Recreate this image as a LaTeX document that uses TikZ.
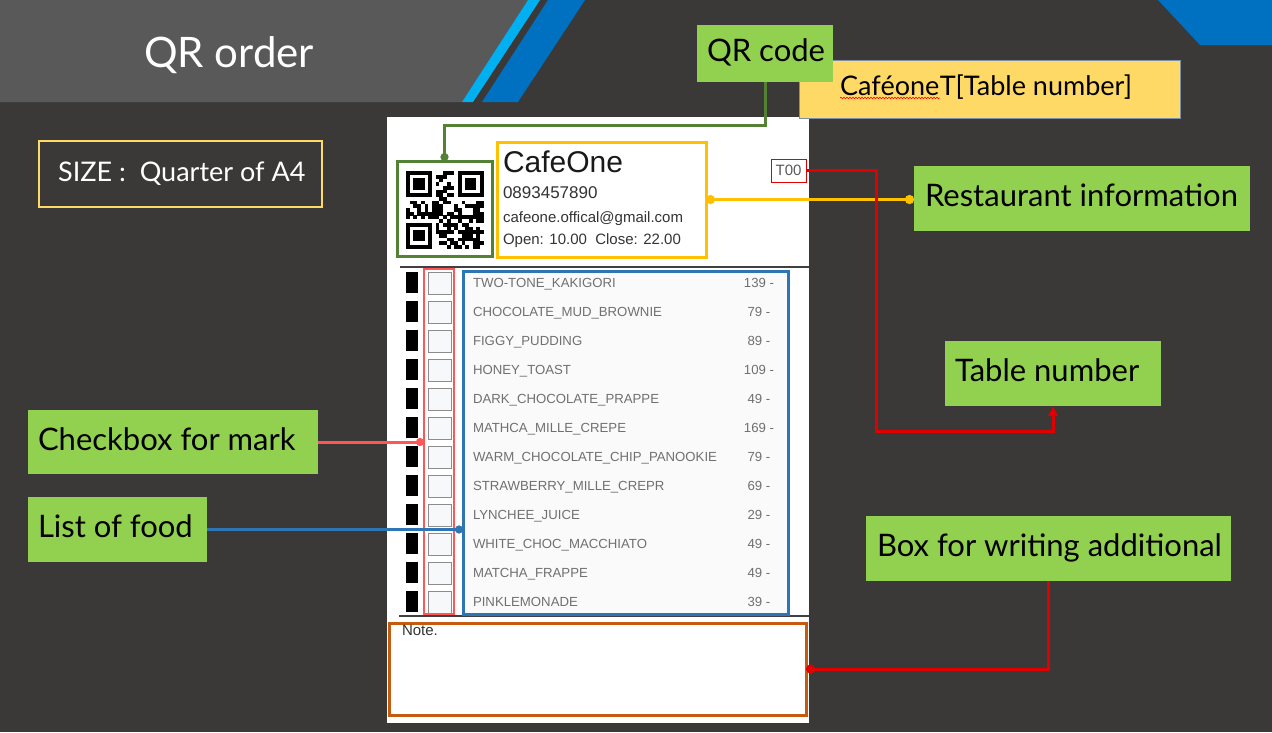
\documentclass[tikz,border=0pt]{standalone}
\usepackage{fontspec}
\setmainfont{Lato}
\newfontfamily\arialf{Liberation Sans}
\usetikzlibrary{arrows.meta,decorations.pathmorphing}
\definecolor{bgc}{HTML}{3B3838}
\definecolor{headgray}{HTML}{595959}
\definecolor{lblue}{HTML}{00B0F0}
\definecolor{dblue}{HTML}{0070C0}
\definecolor{lgreen}{HTML}{92D050}
\definecolor{lyellow}{HTML}{FFD966}
\definecolor{yborder}{HTML}{7F8FA6}
\definecolor{qrgreen}{HTML}{548235}
\definecolor{infoyellow}{HTML}{FFC000}
\definecolor{tred}{HTML}{E00000}
\definecolor{pinkred}{HTML}{FF5757}
\definecolor{listblue}{HTML}{2E75B6}
\definecolor{listfill}{HTML}{FAFAFA}
\definecolor{noteorange}{HTML}{C55A11}
\definecolor{cbgray}{HTML}{8C8C8C}
\definecolor{cbfill}{HTML}{F7F8FA}
\definecolor{foodgray}{HTML}{707070}
\definecolor{papertext}{HTML}{333333}
\begin{document}
\begin{tikzpicture}[x=1pt,y=-1pt,
  lbox/.style={rectangle,fill=lgreen,anchor=north west,inner sep=0pt,outer sep=0pt},
  ltext/.style={anchor=base west,inner sep=0pt,outer sep=0pt,text=black,font=\fontsize{31}{36}\selectfont},
  frame/.style={rectangle,anchor=north west,inner sep=0pt,outer sep=0pt},
  ptext/.style={anchor=base west,inner sep=0pt,outer sep=0pt,text=papertext},
  food/.style={anchor=base west,inner sep=0pt,outer sep=0pt,text=foodgray,font=\arialf\fontsize{13.2}{15}\selectfont},
  conn/.style={line width=3pt},
]
\useasboundingbox (0,0) rectangle (1272,732);
\fill[bgc] (0,0) rectangle (1272,732);
% header
\fill[headgray] (0,0) -- (528,0) -- (462,102) -- (0,102) -- cycle;
\fill[lblue] (528,0) -- (540,0) -- (473,102) -- (462,102) -- cycle;
\fill[dblue] (548,0) -- (585,0) -- (518,102) -- (482,102) -- cycle;
\fill[dblue] (1158,0) -- (1272,0) -- (1272,45) -- (1200,45) -- cycle;
\node[anchor=base,inner sep=0pt,text=white,font=\fontsize{42}{50}\selectfont] (title) at (229,67) {QR order};
% size box
\node[frame,draw=lyellow,line width=1.2pt,minimum width=283pt,minimum height=66pt] (sizebox) at (39,141) {};
\node[anchor=base west,inner sep=0pt,text=white,font=\fontsize{27}{32}\selectfont] (sizetext) at (58,181) {SIZE :\ \ Quarter of A4};
% paper
\node[frame,fill=white,minimum width=422pt,minimum height=606pt] (paper) at (387,117) {};
% yellow label
\node[frame,fill=lyellow,draw=yborder,minimum width=381pt,minimum height=58pt] (ylab) at (799,60) {};
% QR label
\node[lbox,minimum width=136pt,minimum height=57pt] (qrlab) at (697,25) {};
\node[ltext] (qrlabt) at ([xshift=10pt,yshift=-8pt]qrlab.west) {QR code};
\node[anchor=base west,inner sep=0pt,text=black,font=\fontsize{27}{32}\selectfont] (cafe) at (840,95) {Caféone};
\node[anchor=base west,inner sep=0pt,text=black,font=\fontsize{27}{32}\selectfont] (tabn) at (cafe.base east) {T[Table number]};
\draw[red,line width=0.6pt,decorate,decoration={snake,amplitude=0.8pt,segment length=3pt}] ([yshift=-3pt]cafe.base west) -- ([yshift=-3pt]cafe.base east);
% QR box and code
\node[frame,draw=qrgreen,line width=3pt,minimum width=95pt,minimum height=95pt] (qrbox) at (397,161) {};
\begin{scope}[shift={(406,171)},x=3.7pt,y=-3.7pt]
  \foreach \fx/\fy in {0/0,14/0,0/14}{
    \fill[black] (\fx,\fy) rectangle ++(7,7);
    \fill[white] (\fx+1,\fy+1) rectangle ++(5,5);
    \fill[black] (\fx+2,\fy+2) rectangle ++(3,3);
  }
  \pgfmathsetseed{7}
  \foreach \i in {0,...,20}{
    \foreach \j in {0,...,20}{
      \pgfmathtruncatemacro{\qsk}{or(and(\i<8,\j<8),or(and(\i>12,\j<8),and(\i<8,\j>12)))}
      \pgfmathtruncatemacro{\qon}{rnd<0.6}
      \ifnum\qsk=0 \ifnum\qon=1 \fill[black] (\i,\j) rectangle ++(1.05,1.05); \fi\fi
    }
  }
\end{scope}
% info box
\node[frame,draw=infoyellow,line width=3pt,minimum width=209pt,minimum height=115pt] (infobox) at (497,142) {};
\node[ptext,text=black!90,font=\arialf\fontsize{30}{34}\selectfont] (cname) at (503,172) {CafeOne};
\node[ptext,font=\arialf\fontsize{17}{20}\selectfont] (cphone) at (503,198) {0893457890};
\node[ptext,font=\arialf\fontsize{15}{18}\selectfont] (cmail) at (503,222) {cafeone.offical@gmail.com};
\node[ptext,font=\arialf\fontsize{15}{18}\selectfont] (copen) at (503,244) {Open: 10.00\ \ Close: 22.00};
% T00
\node[frame,draw=tred,line width=1pt,minimum width=35pt,minimum height=23pt] (t00) at (771,159) {};
\node[inner sep=0pt,text=black!65,font=\arialf\fontsize{15}{18}\selectfont] (t00t) at (t00.center) {T00};
% separators
\draw[black!75,line width=1.5pt] (400,267) -- (809,267);
\draw[black!75,line width=1.5pt] (399,616) -- (809,616);
% list area
\node[frame,draw=listblue,fill=listfill,line width=3pt,minimum width=325pt,minimum height=343pt] (listbox) at (463,271) {};
\foreach \i in {0,...,11}{
  \fill[black] (406,272+29*\i) rectangle ++(12,21);
  \node[frame,draw=cbgray,fill=cbfill,line width=0.8pt,minimum width=23pt,minimum height=22pt] (cb\i) at (428,272+29*\i) {};
}
\node[frame,draw=pinkred,line width=2.8pt,minimum width=30pt,minimum height=345pt] (cbcol) at (424,269) {};
\foreach \n/\p [count=\k from 0] in {TWO-TONE\_KAKIGORI/139,CHOCOLATE\_MUD\_BROWNIE/79,FIGGY\_PUDDING/89,HONEY\_TOAST/109,DARK\_CHOCOLATE\_PRAPPE/49,MATHCA\_MILLE\_CREPE/169,WARM\_CHOCOLATE\_CHIP\_PANOOKIE/79,STRAWBERRY\_MILLE\_CREPR/69,LYNCHEE\_JUICE/29,WHITE\_CHOC\_MACCHIATO/49,MATCHA\_FRAPPE/49,PINKLEMONADE/39}{
  \node[food] (food\k) at (473,287+29*\k) {\n};
  \node[food,anchor=base] (price\k) at (759,287+29*\k) {\p\ -};
}
% note box
\node[frame,draw=noteorange,line width=3pt,minimum width=417pt,minimum height=92pt] (notebox) at (389,623) {};
\node[ptext,text=black!80,font=\arialf\fontsize{15}{18}\selectfont] (notet) at (402,635) {Note.};
% green labels
\node[lbox,minimum width=336pt,minimum height=65pt] (reslab) at (914,166) {};
\node[ltext] (reslabt) at ([xshift=11pt,yshift=-8pt]reslab.west) {Restaurant information};
\node[lbox,minimum width=216pt,minimum height=65pt] (tablab) at (945,341) {};
\node[ltext] (tablabt) at ([xshift=10pt,yshift=-8pt]tablab.west) {Table number};
\node[lbox,minimum width=290pt,minimum height=64pt] (cblab) at (28,410) {};
\node[ltext] (cblabt) at ([xshift=10pt,yshift=-8pt]cblab.west) {Checkbox for mark};
\node[lbox,minimum width=179pt,minimum height=65pt] (lflab) at (28,497) {};
\node[ltext] (lflabt) at ([xshift=10pt,yshift=-8pt]lflab.west) {List of food};
\node[lbox,minimum width=365pt,minimum height=65pt] (boxlab) at (866,516) {};
\node[ltext] (boxlabt) at ([xshift=11pt,yshift=-8pt]boxlab.west) {Box for writing additional};
% connectors
\draw[conn,qrgreen,-{Circle[length=8pt,width=8pt]}] (qrlab.south) -- ++(0,43) -| (qrbox.north);
\draw[conn,infoyellow,{Circle[length=9pt,width=9pt]}-{Circle[length=9pt,width=9pt]}] (infobox.east) -- (infobox.east -| reslab.west);
\coordinate (tbend) at (876,431);
\draw[conn,tred,-{Triangle[length=10pt,width=9pt]}] (t00.east) -| (tbend) -| (tablab.south);
\draw[conn,pinkred,-{Circle[length=8pt,width=8pt]}] (cblab.east) -- (cblab.east -| cbcol.west);
\draw[conn,listblue,-{Circle[length=8pt,width=8pt]}] (lflab.east) -- (lflab.east -| listbox.west);
\draw[conn,tred,{Circle[length=9pt,width=9pt]}-] (notebox.east) -| (boxlab.south);
\end{tikzpicture}
\end{document}
